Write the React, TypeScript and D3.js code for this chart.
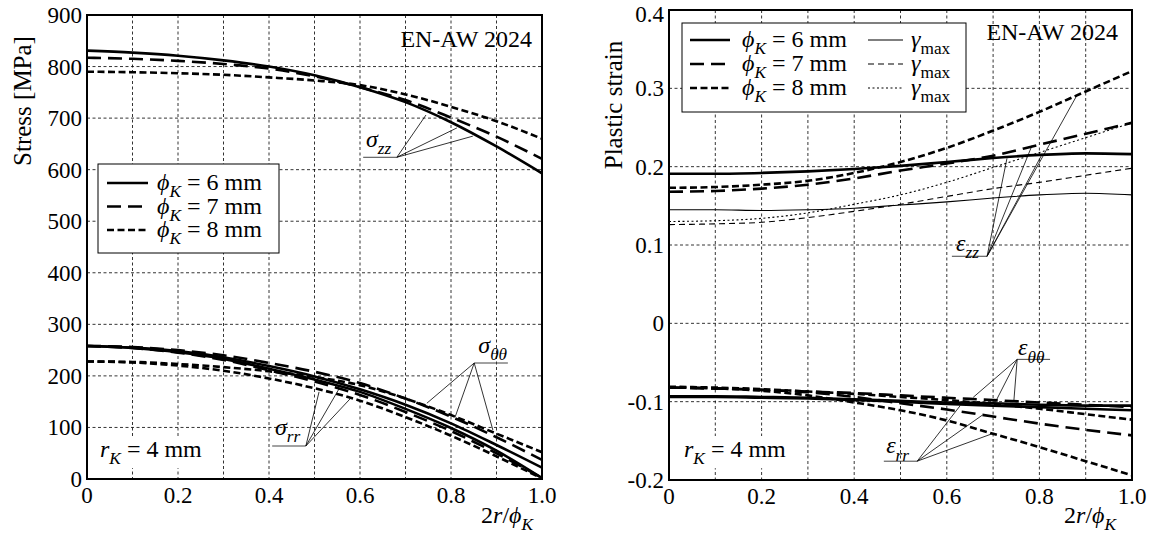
import * as d3 from "d3";
import React, { useEffect, useRef } from "react";

// radial position 2r/phiK
const xs = [0, 0.1, 0.2, 0.3, 0.4, 0.5, 0.6, 0.7, 0.8, 0.9, 1.0];

// stress [MPa], phiK = 6 / 7 / 8 mm
const szz6 = [831, 827, 821, 812, 800, 783, 760, 731, 692, 645, 593];
const szz7 = [817, 815, 811, 805, 796, 781, 760, 735, 701, 664, 621];
const szz8 = [790, 789, 787, 784, 779, 773, 764, 746, 722, 694, 660];
const stt6 = [258, 255, 248, 236, 219, 199, 174, 144, 108, 66, 22];
const stt7 = [258, 256, 250, 240, 225, 208, 186, 156, 121, 81, 37];
const stt8 = [228, 227, 223, 217, 209, 198, 182, 156, 124, 88, 52];
const srr6 = [258, 254, 246, 233, 214, 193, 169, 136, 99, 55, 2];
const srr7 = [258, 254, 245, 231, 211, 189, 163, 130, 93, 50, 2];
const srr8 = [228, 226, 220, 210, 195, 176, 152, 120, 84, 44, 1];

// plastic strain
const ezz6 = [0.191, 0.191, 0.192, 0.194, 0.197, 0.201, 0.206, 0.211, 0.215, 0.217, 0.216];
const ezz7 = [0.168, 0.169, 0.172, 0.177, 0.185, 0.195, 0.204, 0.214, 0.228, 0.242, 0.256];
const ezz8 = [0.173, 0.174, 0.177, 0.182, 0.192, 0.206, 0.224, 0.246, 0.27, 0.296, 0.322];
const gam6 = [0.145, 0.145, 0.144, 0.145, 0.147, 0.151, 0.155, 0.16, 0.164, 0.166, 0.164];
const gam7 = [0.126, 0.127, 0.129, 0.135, 0.143, 0.152, 0.162, 0.172, 0.18, 0.189, 0.198];
const gam8 = [0.13, 0.131, 0.134, 0.141, 0.152, 0.164, 0.18, 0.199, 0.218, 0.237, 0.256];
const ett6 = [-0.093, -0.093, -0.094, -0.095, -0.097, -0.099, -0.101, -0.102, -0.104, -0.105, -0.105];
const ett7 = [-0.082, -0.083, -0.085, -0.087, -0.089, -0.092, -0.095, -0.098, -0.101, -0.104, -0.107];
const ett8 = [-0.081, -0.082, -0.084, -0.087, -0.09, -0.094, -0.098, -0.103, -0.109, -0.116, -0.123];
const err6 = [-0.094, -0.094, -0.095, -0.096, -0.098, -0.1, -0.103, -0.105, -0.107, -0.109, -0.111];
const err7 = [-0.082, -0.083, -0.085, -0.088, -0.094, -0.102, -0.11, -0.119, -0.128, -0.136, -0.143];
const err8 = [-0.082, -0.083, -0.086, -0.092, -0.101, -0.111, -0.124, -0.141, -0.158, -0.176, -0.194];

// ticks
const xTicks = [0, 0.2, 0.4, 0.6, 0.8, 1.0];
const xTickLabels = ["0", "0.2", "0.4", "0.6", "0.8", "1.0"];
const xGrid = [0.1, 0.2, 0.3, 0.4, 0.5, 0.6, 0.7, 0.8, 0.9];
const stressTicks = [0, 100, 200, 300, 400, 500, 600, 700, 800, 900];
const strainTicks = [-0.2, -0.1, 0, 0.1, 0.2, 0.3, 0.4];
const strainTickLabels = ["-0.2", "-0.1", "0", "0.1", "0.2", "0.3", "0.4"];
const diameters = ["6", "7", "8"];

const FONT = "Liberation Serif, DejaVu Serif, serif";
const FS = 23;
const W = 1152;
const H = 543;

const thick = [
  { w: 2.6, dash: null },
  { w: 2.6, dash: "14,7" },
  { w: 2.6, dash: "7,3.5" },
];
const thin = [
  { w: 1.1, dash: null },
  { w: 1.1, dash: "6,4" },
  { w: 1.1, dash: "2,2.5" },
];

// text with italic / subscript parts
function mtext(g, x, y, parts, size, anchor = "start") {
  const t = g.append("text")
    .attr("x", x).attr("y", y)
    .style("font-family", FONT)
    .attr("font-size", size)
    .attr("text-anchor", anchor);
  let shift = 0;
  parts.forEach((p) => {
    const target = p.sub ? size * 0.3 : 0;
    const ts = t.append("tspan").text(p.t).attr("dy", target - shift);
    shift = target;
    if (p.it) ts.attr("font-style", "italic");
    if (p.sub) ts.attr("font-size", size * 0.72);
  });
  return t;
}

function drawPanel(svg, cfg, id) {
  const x = d3.scaleLinear().domain([0, 1]).range([cfg.x0, cfg.x1]);
  const y = d3.scaleLinear().domain(cfg.yDomain).range([cfg.y1, cfg.y0]);
  const g = svg.append("g");

  g.append("clipPath").attr("id", "clip" + id)
    .append("rect")
    .attr("x", cfg.x0).attr("y", cfg.y0)
    .attr("width", cfg.x1 - cfg.x0).attr("height", cfg.y1 - cfg.y0);

  // grid
  g.append("g").selectAll("line").data(xGrid).enter().append("line")
    .attr("x1", (d) => x(d)).attr("x2", (d) => x(d))
    .attr("y1", cfg.y0).attr("y2", cfg.y1)
    .attr("stroke", "#000").attr("stroke-width", 0.8).attr("stroke-dasharray", "3,2.5");
  g.append("g").selectAll("line").data(cfg.yTicks.slice(1, -1)).enter().append("line")
    .attr("x1", cfg.x0).attr("x2", cfg.x1)
    .attr("y1", (d) => y(d)).attr("y2", (d) => y(d))
    .attr("stroke", "#000").attr("stroke-width", 0.8).attr("stroke-dasharray", "3,2.5");

  // text boxes with white background
  cfg.boxes.forEach((b) => {
    const t = mtext(g, b.px, b.py, b.parts, 24);
    const bb = t.node().getBBox();
    g.insert("rect", "text")
      .attr("x", bb.x - 4).attr("y", bb.y).attr("width", bb.width + 8).attr("height", bb.height)
      .attr("fill", "#fff");
  });

  // curves
  const line = d3.line().x((d) => x(d[0])).y((d) => y(d[1])).curve(d3.curveMonotoneX);
  const cg = g.append("g").attr("clip-path", `url(#clip${id})`);
  cfg.series.forEach((s) => {
    cg.append("path")
      .attr("d", line(xs.map((v, i) => [v, s.values[i]])))
      .attr("fill", "none").attr("stroke", "#000")
      .attr("stroke-width", s.style.w)
      .attr("stroke-dasharray", s.style.dash);
  });

  // annotations
  cfg.annotations.forEach((a) => {
    g.append("line")
      .attr("x1", x(a.under[0])).attr("x2", x(a.under[1]))
      .attr("y1", y(a.yv)).attr("y2", y(a.yv))
      .attr("stroke", "#444").attr("stroke-width", 1);
    const ax = x(a.apex), ay = y(a.yv);
    a.targets.forEach((p) => {
      g.append("line")
        .attr("x1", ax).attr("y1", ay).attr("x2", x(p[0])).attr("y2", y(p[1]))
        .attr("stroke", "#000").attr("stroke-width", 0.8);
    });
    mtext(g, x(a.label[0]), y(a.label[1]), a.parts, 24);
  });

  // frame
  g.append("rect")
    .attr("x", cfg.x0).attr("y", cfg.y0)
    .attr("width", cfg.x1 - cfg.x0).attr("height", cfg.y1 - cfg.y0)
    .attr("fill", "none").attr("stroke", "#000").attr("stroke-width", 2);

  // tick labels
  g.append("g").selectAll("text").data(cfg.yTicks).enter().append("text")
    .attr("x", cfg.x0 - 5).attr("y", (d) => Math.max(y(d), 14))
    .attr("dy", "0.35em")
    .attr("text-anchor", "end")
    .style("font-family", FONT).attr("font-size", FS)
    .text((d, i) => cfg.yTickLabels[i]);
  g.append("g").selectAll("text").data(xTicks).enter().append("text")
    .attr("x", (d) => x(d)).attr("y", cfg.y1 + 24)
    .attr("text-anchor", "middle")
    .style("font-family", FONT).attr("font-size", FS)
    .text((d, i) => xTickLabels[i]);

  // axis titles
  mtext(g, cfg.xTitleX, 523, [{ t: "2" }, { t: "r", it: true }, { t: "/" }, { t: "ϕ", it: true }, { t: "K", it: true, sub: true }], 24, "end");
  g.append("text")
    .attr("transform", `translate(${cfg.yTitle[0]},${cfg.yTitle[1]}) rotate(-90)`)
    .attr("text-anchor", "middle")
    .style("font-family", FONT).attr("font-size", 25)
    .text(cfg.yLabel);

  // material label
  g.append("text")
    .attr("x", cfg.matX).attr("y", cfg.matY)
    .attr("text-anchor", "end")
    .style("font-family", FONT).attr("font-size", 24)
    .text("EN-AW 2024");

  // legend
  const L = cfg.legend;
  g.append("rect")
    .attr("x", L.x).attr("y", L.y).attr("width", L.w).attr("height", L.h)
    .attr("fill", "#fff").attr("stroke", "#000").attr("stroke-width", 1);
  L.columns.forEach((col) => {
    col.items.forEach((it, i) => {
      const ry = L.y + L.row0 + i * L.rowStep;
      g.append("line")
        .attr("x1", col.x).attr("x2", col.x + col.len).attr("y1", ry).attr("y2", ry)
        .attr("stroke", "#000").attr("stroke-width", it.style.w)
        .attr("stroke-dasharray", it.style.dash);
      mtext(g, col.x + col.len + col.gap, ry + 7, it.parts, 24);
    });
  });
}

const phiParts = (d) => [
  { t: "ϕ", it: true }, { t: "K", it: true, sub: true }, { t: " = " + d + " mm" },
];
const gamParts = [{ t: "γ", it: true }, { t: "max", sub: true }];
const rkParts = [{ t: "r", it: true }, { t: "K", it: true, sub: true }, { t: " = 4 mm" }];

const leftPanel = {
  x0: 87, x1: 542, y0: 15, y1: 479,
  yDomain: [0, 900],
  yTicks: stressTicks,
  yTickLabels: stressTicks.map(String),
  yLabel: "Stress [MPa]",
  yTitle: [31, 101],
  xTitleX: 533,
  matX: 532, matY: 47,
  series: [szz6, szz7, szz8].map((v, i) => ({ values: v, style: thick[i] }))
    .concat([stt6, stt7, stt8].map((v, i) => ({ values: v, style: thick[i] })))
    .concat([srr6, srr7, srr8].map((v, i) => ({ values: v, style: thick[i] }))),
  boxes: [{ px: 100, py: 457, parts: rkParts }],
  annotations: [
    {
      parts: [{ t: "σ", it: true }, { t: "zz", it: true, sub: true }],
      label: [0.613, 644], under: [0.607, 0.681], apex: 0.681, yv: 624,
      targets: [[0.745, 706], [0.813, 681], [0.848, 665]],
    },
    {
      parts: [{ t: "σ", it: true }, { t: "θθ", it: true, sub: true }],
      label: [0.86, 244], under: [0.851, 0.925], apex: 0.851, yv: 225,
      targets: [[0.747, 147], [0.809, 120], [0.892, 95]],
    },
    {
      parts: [{ t: "σ", it: true }, { t: "rr", it: true, sub: true }],
      label: [0.413, 85], under: [0.407, 0.481], apex: 0.481, yv: 64,
      targets: [[0.51, 169], [0.554, 175], [0.582, 159]],
    },
  ],
  legend: {
    x: 98, y: 164, w: 181, h: 89, row0: 19, rowStep: 23.5,
    columns: [
      { x: 107, len: 41, gap: 9, items: diameters.map((d, i) => ({ style: thick[i], parts: phiParts(d) })) },
    ],
  },
};

const rightPanel = {
  x0: 669, x1: 1132, y0: 10, y1: 480,
  yDomain: [-0.2, 0.4],
  yTicks: strainTicks,
  yTickLabels: strainTickLabels,
  yLabel: "Plastic strain",
  yTitle: [622, 105],
  xTitleX: 1116,
  matX: 1118, matY: 40,
  series: [gam6, gam7, gam8].map((v, i) => ({ values: v, style: thin[i] }))
    .concat([ezz6, ezz7, ezz8].map((v, i) => ({ values: v, style: thick[i] })))
    .concat([ett6, ett7, ett8].map((v, i) => ({ values: v, style: thick[i] })))
    .concat([err6, err7, err8].map((v, i) => ({ values: v, style: thick[i] }))),
  boxes: [{ px: 684, py: 457, parts: rkParts }],
  annotations: [
    {
      parts: [{ t: "ε", it: true }, { t: "zz", it: true, sub: true }],
      label: [0.62, 0.092], under: [0.611, 0.687], apex: 0.687, yv: 0.0856,
      targets: [[0.73, 0.2107], [0.784, 0.227], [0.806, 0.216], [0.881, 0.291]],
    },
    {
      parts: [{ t: "ε", it: true }, { t: "θθ", it: true, sub: true }],
      label: [0.754, -0.041], under: [0.752, 0.823], apex: 0.752, yv: -0.046,
      targets: [[0.657, -0.0945], [0.708, -0.097], [0.745, -0.098]],
    },
    {
      parts: [{ t: "ε", it: true }, { t: "rr", it: true, sub: true }],
      label: [0.469, -0.166], under: [0.464, 0.536], apex: 0.536, yv: -0.176,
      targets: [[0.629, -0.105], [0.676, -0.1175], [0.7, -0.1405]],
    },
  ],
  legend: {
    x: 682, y: 23, w: 284, h: 89, row0: 17, rowStep: 24,
    columns: [
      { x: 690, len: 40, gap: 12, items: diameters.map((d, i) => ({ style: thick[i], parts: phiParts(d) })) },
      { x: 868, len: 35, gap: 8, items: diameters.map((d, i) => ({ style: thin[i], parts: gamParts })) },
    ],
  },
};

export default function App() {
  const svgRef = useRef(null);
  useEffect(() => {
    const svg = d3.select(svgRef.current);
    svg.selectAll("*").remove();
    drawPanel(svg, leftPanel, "L");
    drawPanel(svg, rightPanel, "R");
  }, []);
  return (
    <svg
      ref={svgRef}
      width={W}
      height={H}
      style={{ position: "absolute", left: 0, top: 0, background: "#fff" }}
    />
  );
}
